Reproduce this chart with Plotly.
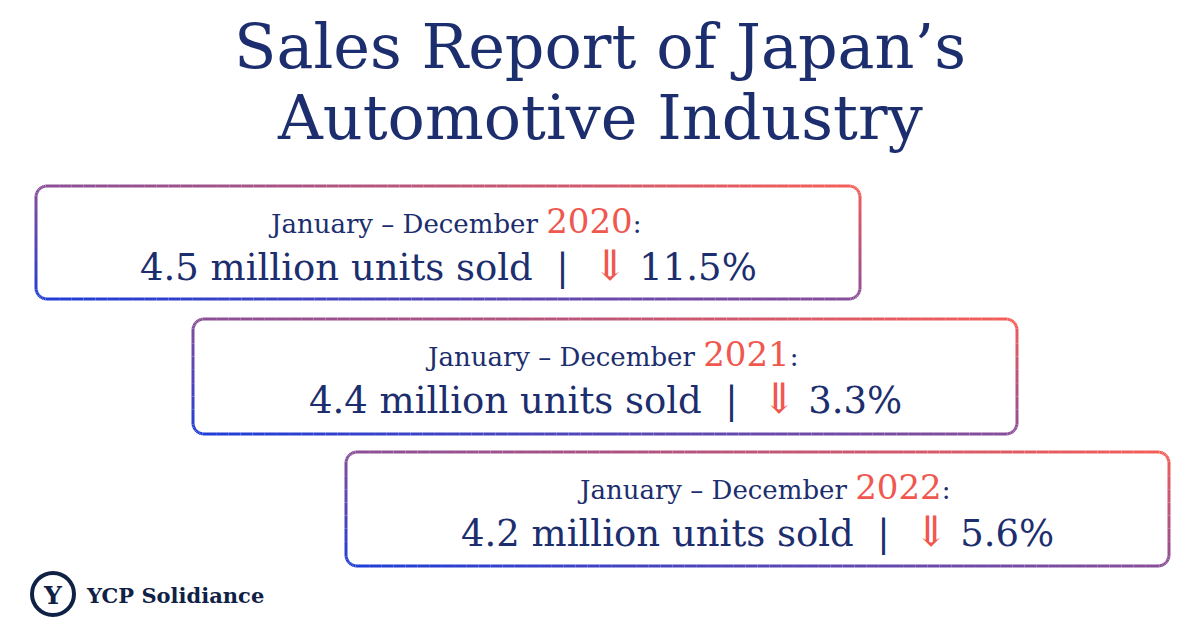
import numpy as np
import plotly.graph_objects as go

years = ["2020", "2021", "2022"]
units = ["4.5", "4.4", "4.2"]
changes = ["11.5%", "3.3%", "5.6%"]

NAVY = "#1c2e6e"
RED = "#f0574f"
SERIF = "DejaVu Serif"

# box geometry in pixels (x0, y0, x1, y1)
boxes = [(36, 186, 860, 299), (193, 319, 1017, 434), (346, 452, 1169, 566)]
R = 11

def mix(t):
    a = np.array([0x1f, 0x3e, 0xd8])
    b = np.array([0xf5, 0x5f, 0x58])
    c = a + (b - a) * t
    return "rgb(%d,%d,%d)" % tuple(c)

def rounded_points(x0, y0, x1, y1, r, n=12):
    pts = []
    corners = [(x1 - r, y0 + r, -90, 0), (x1 - r, y1 - r, 0, 90),
               (x0 + r, y1 - r, 90, 180), (x0 + r, y0 + r, 180, 270)]
    for cx, cy, a0, a1 in corners:
        for a in np.linspace(a0, a1, n):
            pts.append((cx + r * np.cos(np.radians(a)), cy + r * np.sin(np.radians(a))))
    pts.append(pts[0])
    out = []
    for (xa, ya), (xb, yb) in zip(pts[:-1], pts[1:]):
        k = max(1, int(np.hypot(xb - xa, yb - ya) / 12))
        for i in range(k):
            out.append((xa + (xb - xa) * i / k, ya + (yb - ya) * i / k))
    out.append(pts[0])
    return out

fig = go.Figure()
shapes = []
annotations = []

for (x0, y0, x1, y1), yr, u, ch in zip(boxes, years, units, changes):
    pts = rounded_points(x0, y0, x1, y1, R)
    for (xa, ya), (xb, yb) in zip(pts[:-1], pts[1:]):
        xm, ym = (xa + xb) / 2, (ya + yb) / 2
        t = ((xm - x0) / (x1 - x0) + (y1 - ym) / (y1 - y0)) / 2
        shapes.append(dict(type="line", x0=xa, y0=ya, x1=xb, y1=yb,
                           line=dict(color=mix(t), width=3), layer="above"))
    cx = (x0 + x1) / 2
    annotations.append(dict(
        x=cx + 6, y=y0 + 35, showarrow=False,
        text=f"January – December <span style='color:{RED};font-size:34px'>{yr}</span>:",
        font=dict(family=SERIF, size=26, color=NAVY)))
    annotations.append(dict(
        x=cx, y=y0 + 79, showarrow=False,
        text=f"{u} million units sold &nbsp;|&nbsp; <span style='color:{RED};font-size:42px'>⇓</span> {ch}",
        font=dict(family=SERIF, size=37, color=NAVY)))

annotations.append(dict(x=600, y=46, showarrow=False, text="Sales Report of Japan’s",
                        font=dict(family=SERIF, size=62, color=NAVY)))
annotations.append(dict(x=600, y=117, showarrow=False, text="Automotive Industry",
                        font=dict(family=SERIF, size=62, color=NAVY)))

# logo
shapes.append(dict(type="circle", x0=32, y0=573, x1=74, y1=615,
                   line=dict(color="#0f2145", width=4)))
annotations.append(dict(x=53, y=595, showarrow=False, text="<b>Y</b>",
                        font=dict(family=SERIF, size=25, color="#0f2145")))
annotations.append(dict(x=84, y=595, xanchor="left", showarrow=False, text="<b>YCP Solidiance</b>",
                        font=dict(family=SERIF, size=21, color="#0f2145")))

fig.add_trace(go.Scatter(x=[8, 1208], y=[8, 635], mode="markers",
                         marker=dict(opacity=0), hoverinfo="skip", showlegend=False))
# page body has an 8px margin, so offset the ranges by 8px
fig.update_layout(
    width=1200, height=627, margin=dict(l=0, r=0, t=0, b=0),
    paper_bgcolor="white", plot_bgcolor="white",
    xaxis=dict(range=[8, 1208], visible=False, fixedrange=True),
    yaxis=dict(range=[635, 8], visible=False, fixedrange=True),
    shapes=shapes, annotations=annotations,
)
fig.write_html("out.html")
